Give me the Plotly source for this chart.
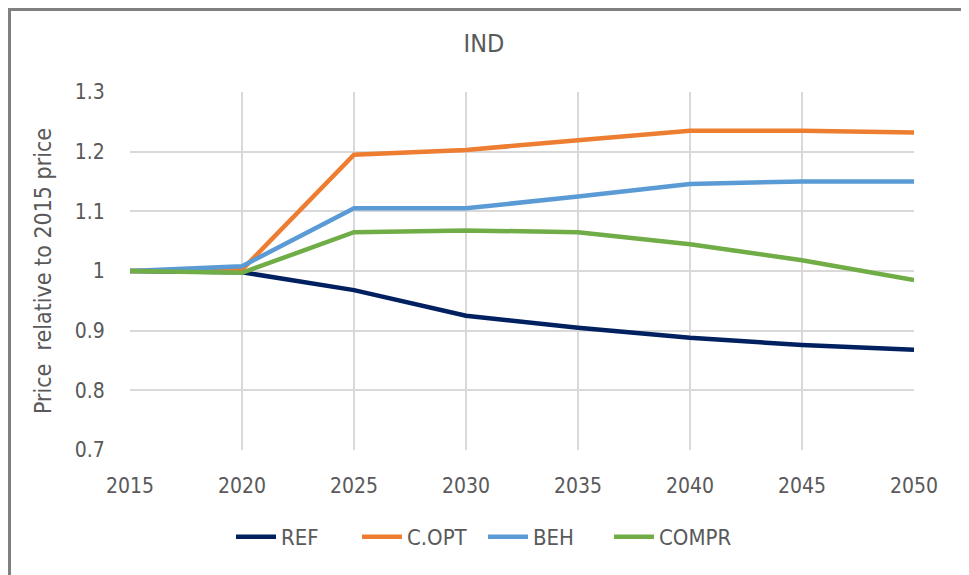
import plotly.graph_objects as go

years = [2015, 2020, 2025, 2030, 2035, 2040, 2045, 2050]

ref = [1.0, 0.998, 0.968, 0.925, 0.905, 0.888, 0.876, 0.868]
c_opt = [1.0, 1.002, 1.195, 1.203, 1.219, 1.235, 1.235, 1.232]
beh = [1.0, 1.008, 1.105, 1.105, 1.125, 1.146, 1.150, 1.150]
compr = [1.0, 0.997, 1.065, 1.068, 1.065, 1.045, 1.018, 0.985]

y_ticks = [0.7, 0.8, 0.9, 1.0, 1.1, 1.2, 1.3]
y_tick_text = ["0.7", "0.8", "0.9", "1", "1.1", "1.2", "1.3"]

series = [
    ("REF", ref, "#002060"),
    ("C.OPT", c_opt, "#ED7D31"),
    ("BEH", beh, "#5B9BD5"),
    ("COMPR", compr, "#70AD47"),
]

FONT = "DejaVu Sans Condensed, Liberation Sans Narrow, sans-serif"
GREY = "#595959"

fig = go.Figure()

for name, vals, col in series:
    fig.add_trace(go.Scatter(
        x=years,
        y=vals,
        mode="lines",
        name=name,
        line=dict(color=col, width=4.5),
    ))

# the page body adds an 8px offset, so the figure is a bit smaller
# and margins are chosen so the plot area lands on the reference pixels
OFF = 8
W, H = 969 - OFF, 575 - OFF
L, T = 130 - OFF, 92 - OFF
R, B = W - (914 - OFF), H - (450 - OFF)
pw, ph = W - L - R, H - T - B

def px_x(p):
    return (p - OFF - L) / pw

def px_y(p):
    return (H - B - (p - OFF)) / ph

fig.update_layout(
    width=W,
    height=H,
    margin=dict(l=L, r=R, t=T, b=B),
    paper_bgcolor="white",
    plot_bgcolor="white",
    font=dict(family=FONT, color=GREY, size=21),
    title=dict(text="IND", xref="paper", x=px_x(484), xanchor="center",
               y=1 - (43 - OFF) / H, yanchor="middle",
               font=dict(size=25, color=GREY)),
    showlegend=True,
    legend=dict(orientation="h", x=px_x(483), xanchor="center", y=px_y(537),
                yanchor="middle", font=dict(size=22, color=GREY),
                itemwidth=40, entrywidth=71, entrywidthmode="pixels",
                tracegroupgap=0),
    xaxis=dict(
        range=[2015, 2050],
        tickvals=years,
        showgrid=True,
        gridcolor="#d9d9d9",
        gridwidth=1.5,
        zeroline=False,
        showline=False,
        ticks="outside",
        ticklen=17,
        tickcolor="rgba(0,0,0,0)",
        tickfont=dict(size=21, color=GREY),
    ),
    yaxis=dict(
        range=[0.7, 1.3],
        tickvals=y_ticks,
        ticktext=y_tick_text,
        showgrid=True,
        gridcolor="#d9d9d9",
        gridwidth=1.5,
        zeroline=False,
        showline=False,
        ticks="outside",
        ticklen=20,
        tickcolor="rgba(0,0,0,0)",
        tickfont=dict(size=21, color=GREY),
        title=dict(text="Price  relative to 2015 price", standoff=16,
                   font=dict(size=23, color=GREY)),
    ),
)

# chart frame
fig.add_shape(type="rect", xref="paper", yref="paper",
              x0=px_x(OFF + 1.5), x1=px_x(966), y0=px_y(600), y1=px_y(OFF + 1.5),
              line=dict(color="#808080", width=3), fillcolor="rgba(0,0,0,0)",
              layer="below")

fig.write_html("out.html")
